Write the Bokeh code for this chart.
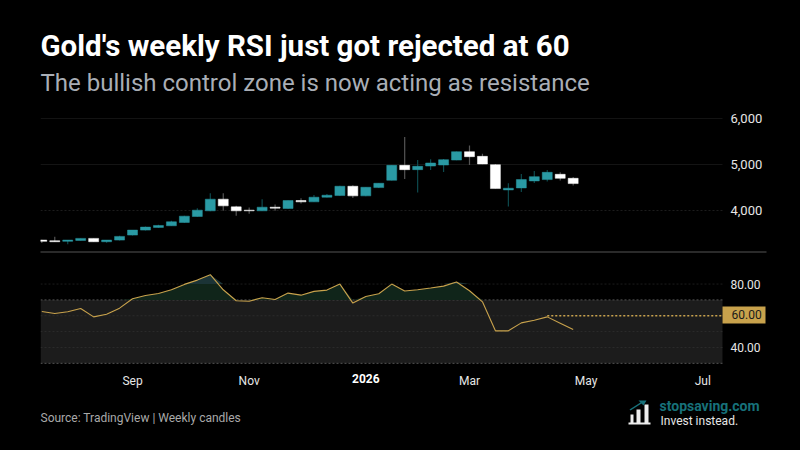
from bokeh.plotting import figure
from bokeh.models import ColumnDataSource, Label, BoxAnnotation, PolyAnnotation, FixedTicker, Range1d, LinearAxis, NumeralTickFormatter
from bokeh.embed import file_html
from bokeh.resources import INLINE
import numpy as np

TITLE = "Gold's weekly RSI just got rejected at 60"
SUBTITLE = "The bullish control zone is now acting as resistance"
SOURCE = "Source: TradingView | Weekly candles"

opens = [3357,3343,3329,3350,3394,3321,3357,3466,3574,3632,3668,3740,3870,3993,4246,4079,4007,3993,4072,4043,4217,4188,4289,4325,4527,4318,4498,4657,4982,4888,4967,4989,5097,5278,5177,4996,4448,4491,4643,4672,4787,4700]
closes = [3329,3321,3357,3394,3321,3357,3437,3574,3639,3675,3755,3877,4007,4246,4101,3993,3993,4072,4051,4217,4188,4289,4332,4527,4318,4505,4592,4982,4888,4960,5032,5105,5278,5170,5011,4477,4484,4672,4736,4830,4700,4585]
highs = [3365,3430,3357,3394,3394,3357,3451,3574,3653,3690,3776,3884,4051,4375,4375,4101,4065,4246,4130,4217,4267,4339,4361,4540,4549,4505,4592,4982,5596,5097,5112,5120,5285,5415,5235,5010,4592,4794,4859,4881,4830,4729]
lows = [3293,3321,3264,3350,3321,3300,3350,3459,3567,3625,3668,3733,3863,3986,3993,3884,3928,3993,3993,4036,4152,4188,4282,4318,4274,4311,4491,4650,4686,4390,4881,4838,5090,4989,5004,4477,4087,4404,4599,4628,4650,4542]
rsi = [62.7,61.4,62.5,64.6,59.3,61.0,64.8,70.7,72.8,74.1,76.4,79.8,82.5,85.9,76.4,69.5,69.2,71.4,70.3,74.3,73.0,75.4,76.2,80.0,68.0,72.2,73.9,80.0,75.6,76.4,77.5,78.7,81.3,75.8,68.8,50.5,50.5,55.5,57.2,59.3,55.3,51.3]

price_ticks = [4000, 5000, 6000]
rsi_ticks = [40, 80]
rsi_grid = [40, 50, 60]
month_ticks = {7: "Sep", 16: "Nov", 33: "Mar", 42: "May", 51: "Jul"}
year_tick = {25: "2026"}
band_low, band_high, last_level = 30, 70, 60
level_start = 39

weeks = list(range(len(closes)))
X0, X1 = -0.1, 52.52     # left and right edge of the chart panes, in weeks
RSI_FLOOR = 26.7         # bottom of the RSI pane: the time axis sits here
TEAL, WHITE, GOLD = "#2a9aa4", "#ffffff", "#c8a24c"
FONT = "Roboto"
H = 450

up = [c >= o for o, c in zip(opens, closes)]
src = ColumnDataSource(dict(
    x=weeks, o=opens, c=closes, h=highs, l=lows,
    body=[TEAL if u else WHITE for u in up],
    wick=["#0d4a4e" if u else "#555555" for u in up]))

p = figure(output_backend="svg", toolbar_location=None, width=800, height=H,
           background_fill_color="#000000", border_fill_color="#000000",
           outline_line_color=None, x_range=Range1d(-3.187, 58.54), y_range=Range1d(-1217, 8565),
           x_axis_location=None, y_axis_location=None,
           min_border=0, min_border_left=0, min_border_right=0, min_border_top=0, min_border_bottom=0)
p.extra_y_ranges = {"rsi": Range1d(-25, 258.9)}
p.grid.visible = False

def style_axis(a, font_style="normal", color="#e6e6e6", size="12px"):
    a.axis_line_color = None
    a.major_tick_line_color = None
    a.minor_tick_line_color = None
    a.major_tick_out = 0
    a.major_tick_in = 0
    a.major_label_text_color = color
    a.major_label_text_font = FONT
    a.major_label_text_font_size = size
    a.major_label_text_font_style = font_style

# axes
ax_price = LinearAxis(ticker=FixedTicker(ticks=price_ticks), formatter=NumeralTickFormatter(format="0,0"),
                      fixed_location=X1, major_label_standoff=8)
style_axis(ax_price, size="13px")
p.add_layout(ax_price, "right")
ax_rsi = LinearAxis(y_range_name="rsi", ticker=FixedTicker(ticks=rsi_ticks),
                    formatter=NumeralTickFormatter(format="0.00"), fixed_location=X1, major_label_standoff=8)
style_axis(ax_rsi)
p.add_layout(ax_rsi, "right")
ax_time = LinearAxis(y_range_name="rsi", ticker=FixedTicker(ticks=list(month_ticks)),
                     major_label_overrides=month_ticks, fixed_location=RSI_FLOOR, major_label_standoff=5)
style_axis(ax_time)
p.add_layout(ax_time, "below")
ax_year = LinearAxis(y_range_name="rsi", ticker=FixedTicker(ticks=list(year_tick)),
                     major_label_overrides=year_tick, fixed_location=RSI_FLOOR, major_label_standoff=5)
style_axis(ax_year, "bold", "#ffffff")
p.add_layout(ax_year, "below")

# price pane
p.segment([X0] * 2, price_ticks[1:], [X1] * 2, price_ticks[1:], line_color="#141414", line_width=1)
p.segment([X0], price_ticks[:1], [X1], price_ticks[:1], line_color="#1c1c1c", line_width=1, line_dash="2 2")
p.segment("x", "l", "x", "h", source=src, line_color="wick", line_width=1.2)
p.vbar("x", 0.77, "o", "c", source=src, fill_color="body", line_color="body", line_width=0.5)

# RSI pane
p.add_layout(BoxAnnotation(left=X0, right=X1, bottom=band_low, top=band_high, y_range_name="rsi",
                           fill_color="#1c1c1c", fill_alpha=1, line_color=None, level="underlay"))
grid_kw = dict(y_range_name="rsi", line_width=1, line_dash="2 2")
p.segment([X0], [80], [X1], [80], line_color="#1c1c1c", **grid_kw)
p.segment([X0] * 3, rsi_grid, [X1] * 3, rsi_grid, line_color="#2c2c2c", **grid_kw)
p.segment([X0] * 2, [band_low, band_high], [X1] * 2, [band_low, band_high], line_color="#555555", **grid_kw)

arr = np.array(rsi)
p.varea(weeks, np.full(len(arr), band_high), np.maximum(arr, band_high), fill_color="#10251a", y_range_name="rsi")
p.varea(weeks, np.full(len(arr), 80), np.maximum(arr, 80), fill_color="#1b3336", y_range_name="rsi")
p.line(weeks, rsi, line_color=GOLD, line_width=1.1, y_range_name="rsi")
p.line([level_start, X1], [last_level, last_level], line_color=GOLD, line_width=1.3,
       line_dash="2 2", y_range_name="rsi")

# hide whatever falls left of the panes
def box(l, r, t, b, c):
    p.add_layout(BoxAnnotation(left=l, right=r, top=H - t, bottom=H - b,
                               left_units="screen", right_units="screen", top_units="screen",
                               bottom_units="screen", fill_color=c, fill_alpha=1, line_color=None))
box(0, 40, 100, 368, "#000000")
box(40, 766, 251, 252, "#555555")
box(722, 765, 306, 323, GOLD)

def text(s, px, py, size, color, style="normal"):
    p.add_layout(Label(x=px, y=H - py, x_units="screen", y_units="screen",
                       text=s, text_font=FONT, text_font_size=size, text_color=color,
                       text_font_style=style, text_align="left", text_baseline="alphabetic"))

text(TITLE, 40, 45, "29.5px", "#ffffff", "bold")
text(SUBTITLE, 40, 82, "24px", "#a9aeb6")
text(SOURCE, 40, 417, "12px", "#a9a9a9")
text("stopsaving.com", 659, 405, "14px", "#17717a", "bold")
text("Invest instead.", 660, 420, "12px", "#e6e6e6")
text(f"{last_level:.2f}", 731, 314, "12px", "#1a1a1a")

for l, r, t in [(630, 633, 414), (636, 640, 409), (644, 648, 404)]:
    box(l, r, t, 423, "#eeeeee")
box(628, 650, 422, 424, "#eeeeee")
p.add_layout(PolyAnnotation(xs=[629, 640, 638, 646, 643, 641, 630],
                            ys=[H - 409, H - 402, H - 400, H - 400, H - 405, H - 403, H - 410],
                            xs_units="screen", ys_units="screen", fill_color="#17717a", fill_alpha=1,
                            line_color=None))

html = file_html(p, INLINE)
html = html.replace("<body>", '<body style="background:#000000">')
open("out.html", "w").write(html)
